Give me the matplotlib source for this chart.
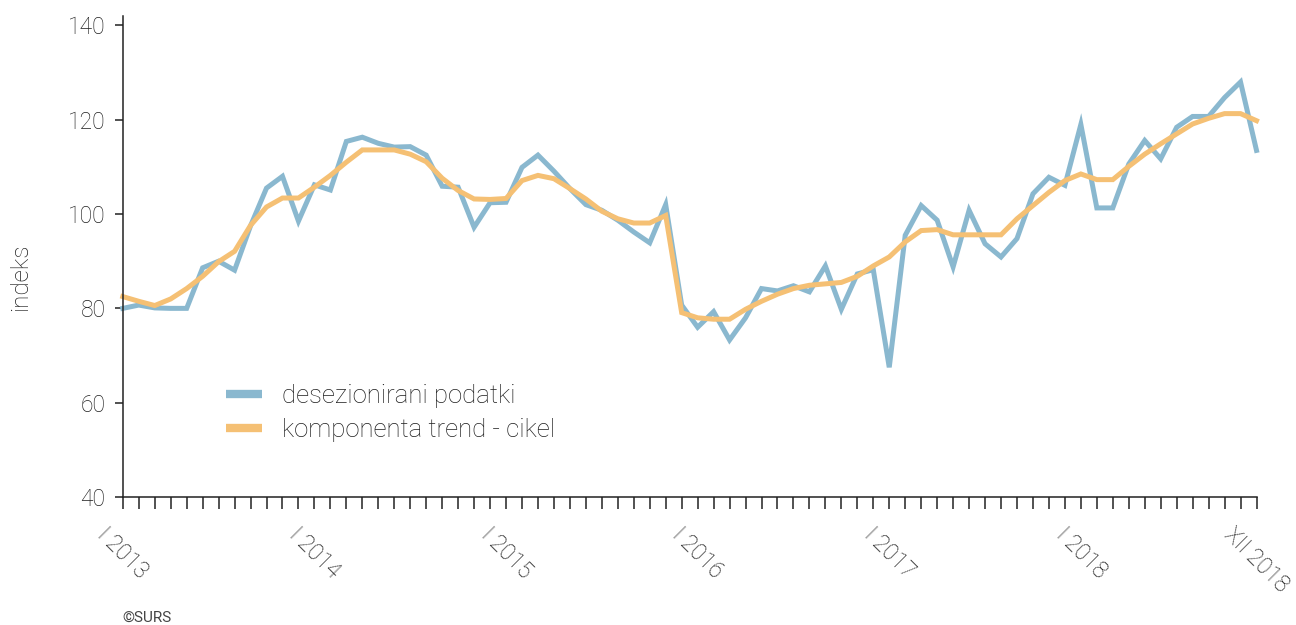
import matplotlib
matplotlib.use("Agg")
import matplotlib.pyplot as plt

# mesečni indeksi I 2013 - XII 2018
months = list(range(72))
tick_labels = {0: "I 2013", 12: "I 2014", 24: "I 2015", 36: "I 2016",
               48: "I 2017", 60: "I 2018", 71: "XII 2018"}

deseasonal = [
    80.0, 80.7, 80.1, 80.0, 80.0, 88.6, 90.0, 88.1, 97.5, 105.5, 108.0, 98.5,
    106.2, 105.1, 115.4, 116.3, 115.0, 114.2, 114.3, 112.5, 105.9, 105.7, 97.2, 102.4,
    102.5, 109.9, 112.5, 109.1, 105.4, 102.0, 100.8, 98.7, 96.2, 93.9, 102.0, 80.7,
    76.0, 79.3, 73.3, 78.0, 84.2, 83.7, 84.8, 83.5, 89.0, 79.8, 87.3, 88.2,
    67.5, 95.5, 101.8, 98.7, 88.8, 100.8, 93.7, 90.9, 94.8, 104.3, 107.8, 106.1,
    119.0, 101.3, 101.3, 110.6, 115.6, 111.7, 118.4, 120.7, 120.7, 124.7, 128.0, 113.5,
]
trend_cycle = [
    82.5, 81.5, 80.6, 82.0, 84.2, 86.8, 89.9, 92.1, 97.6, 101.5, 103.4, 103.4,
    105.7, 108.2, 111.0, 113.6, 113.6, 113.6, 112.7, 111.1, 107.6, 105.0, 103.2, 103.1,
    103.3, 107.1, 108.2, 107.5, 105.4, 103.2, 100.6, 99.0, 98.1, 98.1, 99.7, 79.1,
    78.0, 77.7, 77.7, 79.8, 81.5, 83.0, 84.2, 84.9, 85.2, 85.5, 86.8, 89.0,
    90.9, 94.1, 96.5, 96.7, 95.6, 95.6, 95.6, 95.6, 99.0, 101.8, 104.6, 107.1,
    108.5, 107.3, 107.3, 110.1, 112.7, 114.9, 117.0, 119.1, 120.3, 121.3, 121.3, 119.8,
]
series_names = ["desezionirani podatki", "komponenta trend - cikel"]

BLUE = "#8ab8cf"
ORANGE = "#f5c074"
TEXT = "#1e1e1e"

plt.rcParams["font.family"] = ["Roboto", "DejaVu Sans"]
plt.rcParams["font.weight"] = "light"
plt.rcParams["font.size"] = 16

fig = plt.figure(figsize=(12.96, 6.25), dpi=100)
ax = fig.add_axes([122.8 / 1296, 1 - 497 / 625, (1256.5 - 122.8) / 1296, (497 - 16) / 625])

ax.plot(months, deseasonal, color=BLUE, lw=3.6, solid_joinstyle="miter",
        label=series_names[0], clip_on=False)
ax.plot(months, trend_cycle, color=ORANGE, lw=3.6, solid_joinstyle="miter",
        label=series_names[1], clip_on=False)

ax.set_xlim(0, 71)
ax.set_ylim(40, 142)
ax.set_yticks([40, 60, 80, 100, 120, 140])
ax.set_xticks(months, [tick_labels.get(m, "") for m in months])

for side in ("top", "right"):
    ax.spines[side].set_visible(False)
for side in ("left", "bottom"):
    ax.spines[side].set_color("#222222")
    ax.spines[side].set_linewidth(1.1)

ax.tick_params(axis="y", direction="out", length=6, width=1.1, pad=6.5,
               colors="#222222", labelcolor=TEXT, labelsize=16.5)
ax.tick_params(axis="x", direction="out", length=8.6, width=1.1, pad=10,
               colors="#222222", labelcolor=TEXT, labelsize=16.5)
for lab in ax.get_xticklabels():
    lab.set_rotation(-45)
    lab.set_ha("center")
    lab.set_va("top")

fig.text(21 / 1296, 1 - 277 / 625, "indeks", rotation=90, ha="center", va="center",
         color=TEXT, fontsize=17.5)
fig.text(122 / 1296, 1 - 618 / 625, "©SURS", ha="left", va="center",
         color="#444444", fontsize=11, fontweight="normal")

leg = ax.legend(loc="center left", bbox_to_anchor=(213 / 1296, 1 - 413 / 625),
                bbox_transform=fig.transFigure, frameon=False, borderpad=0,
                handlelength=1.4, handletextpad=0.8, labelspacing=0.36,
                fontsize=18.5)
for h in leg.get_lines():
    h.set_linewidth(6)
    h.set_solid_capstyle("butt")
for t in leg.get_texts():
    t.set_color(TEXT)

fig.savefig("out.png", dpi=100)
